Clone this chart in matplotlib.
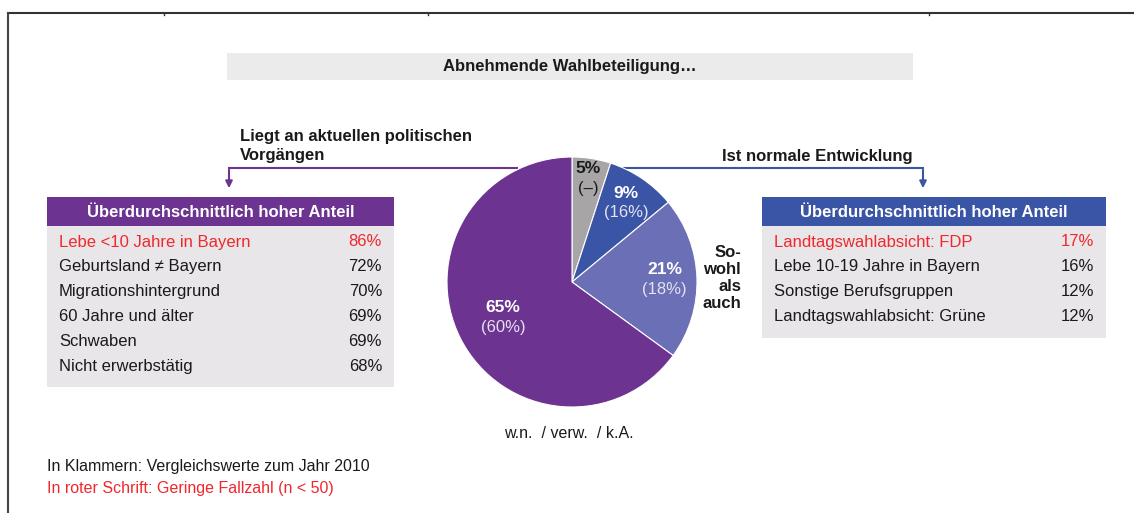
import matplotlib.pyplot as plt
from matplotlib.patches import Rectangle
import numpy as np

plt.rcParams['font.family'] = ['Liberation Sans', 'DejaVu Sans']

# Daten
pie_labels = ['w.n. / verw. / k.A.', 'Ist normale Entwicklung', 'Sowohl als auch',
              'Liegt an aktuellen politischen Vorgängen']
pie_values = [5, 9, 21, 65]
pie_prev = ['(–)', '(16%)', '(18%)', '(60%)']
pie_colors = ['#a7a5a6', '#3a55a6', '#6a6fb6', '#6c3391']

left_items = ['Lebe <10 Jahre in Bayern', 'Geburtsland ≠ Bayern', 'Migrationshintergrund',
              '60 Jahre und älter', 'Schwaben', 'Nicht erwerbstätig']
left_values = [86, 72, 70, 69, 69, 68]
left_small_n = [True, False, False, False, False, False]

right_items = ['Landtagswahlabsicht: FDP', 'Lebe 10-19 Jahre in Bayern',
               'Sonstige Berufsgruppen', 'Landtagswahlabsicht: Grüne']
right_values = [17, 16, 12, 12]
right_small_n = [True, False, False, False]

W, H = 1134, 513
fig = plt.figure(figsize=(W / 100, H / 100), dpi=100)
ax = fig.add_axes([0, 0, 1, 1])
ax.set_xlim(0, W)
ax.set_ylim(H, 0)
ax.axis('off')

purple = '#6c3391'
blue = '#3a55a6'
red = '#f0282d'
dark = '#1a1a1a'

# Rahmen oben / links
ax.plot([8, W], [13, 13], color='#333333', lw=1.5)
ax.plot([8, 8], [13, H], color='#444444', lw=1.5)
for xt in [164, 428, 929]:
    ax.plot([xt, xt], [13, 15], color='#333333', lw=1)

# Titelbalken
ax.add_patch(Rectangle((227, 53), 686, 27, color='#ebebeb', lw=0))
ax.text(570, 67, 'Abnehmende Wahlbeteiligung…', ha='center', va='center',
        fontsize=12, fontweight='bold', color=dark)

# Tortendiagramm
cx, cy, R = 572, 282, 125
pax = fig.add_axes([(cx - R) / W, (H - cy - R) / H, 2 * R / W, 2 * R / H])
wedges, _ = pax.pie(pie_values, colors=pie_colors, startangle=90, counterclock=False,
                    radius=1, wedgeprops=dict(edgecolor='white', linewidth=0.8))
pax.set_xlim(-1, 1)
pax.set_ylim(-1, 1)
pax.set_aspect('equal')

dist = [0.84, 0.77, 0.74, 0.62]
main_col = [dark, 'white', 'white', 'white']
sub_col = [dark, '#e4e2ef', '#e4e2ef', '#e4e2ef']
for w, v, p, d, mc, sc in zip(wedges, pie_values, pie_prev, dist, main_col, sub_col):
    ang = np.deg2rad((w.theta1 + w.theta2) / 2)
    x, y = d * np.cos(ang), d * np.sin(ang)
    pax.text(x, y + 0.075, f'{v}%', ha='center', va='center', fontsize=12.5,
             fontweight='bold', color=mc)
    pax.text(x, y - 0.08, p, ha='center', va='center', fontsize=12, color=sc)

# Beschriftungen am Kreis
ax.text(240, 146, 'Liegt an aktuellen politischen\nVorgängen', ha='left', va='center',
        fontsize=12, fontweight='bold', color=dark, linespacing=1.35)
ax.text(913, 156, 'Ist normale Entwicklung', ha='right', va='center',
        fontsize=12, fontweight='bold', color=dark)
ax.text(741, 278, 'So-\nwohl\nals\nauch', ha='right', va='center',
        fontsize=12, fontweight='bold', color=dark, linespacing=1.18)
ax.text(569, 434, 'w.n.  / verw.  / k.A.', ha='center', va='center',
        fontsize=11.5, color=dark)

# Pfeile
ax.plot([517, 229], [168, 168], color=purple, lw=1.5)
ax.annotate('', xy=(229, 191), xytext=(229, 167),
            arrowprops=dict(arrowstyle='-|>', color=purple, lw=1.5, mutation_scale=10))
ax.plot([623, 923], [168, 168], color=blue, lw=1.5)
ax.annotate('', xy=(923, 191), xytext=(923, 167),
            arrowprops=dict(arrowstyle='-|>', color=blue, lw=1.5, mutation_scale=10))


def draw_box(x0, x1, items, values, small_n, head_color):
    row_h = 24.9
    top = 197
    head_h = 29
    body_h = 12 + row_h * len(items)
    ax.add_patch(Rectangle((x0, top), x1 - x0, head_h, color=head_color, lw=0))
    ax.add_patch(Rectangle((x0, top + head_h), x1 - x0, body_h, color='#e8e6e8', lw=0))
    ax.text((x0 + x1) / 2, top + head_h / 2 + 1, 'Überdurchschnittlich hoher Anteil',
            ha='center', va='center', fontsize=12, fontweight='bold', color='white')
    for i, (lab, val, sn) in enumerate(zip(items, values, small_n)):
        y = 242 + i * row_h
        c = red if sn else dark
        ax.text(x0 + 12, y, lab, ha='left', va='center', fontsize=12, color=c)
        ax.text(x1 - 12, y, f'{val}%', ha='right', va='center', fontsize=12, color=c)


draw_box(47, 394, left_items, left_values, left_small_n, purple)
draw_box(762, 1106, right_items, right_values, right_small_n, blue)

# Fußnoten
ax.text(47, 467, 'In Klammern: Vergleichswerte zum Jahr 2010', ha='left', va='center',
        fontsize=11.5, color=dark)
ax.text(47, 488, 'In roter Schrift: Geringe Fallzahl (n < 50)', ha='left', va='center',
        fontsize=11.5, color=red)

fig.savefig('out.png', dpi=100)
